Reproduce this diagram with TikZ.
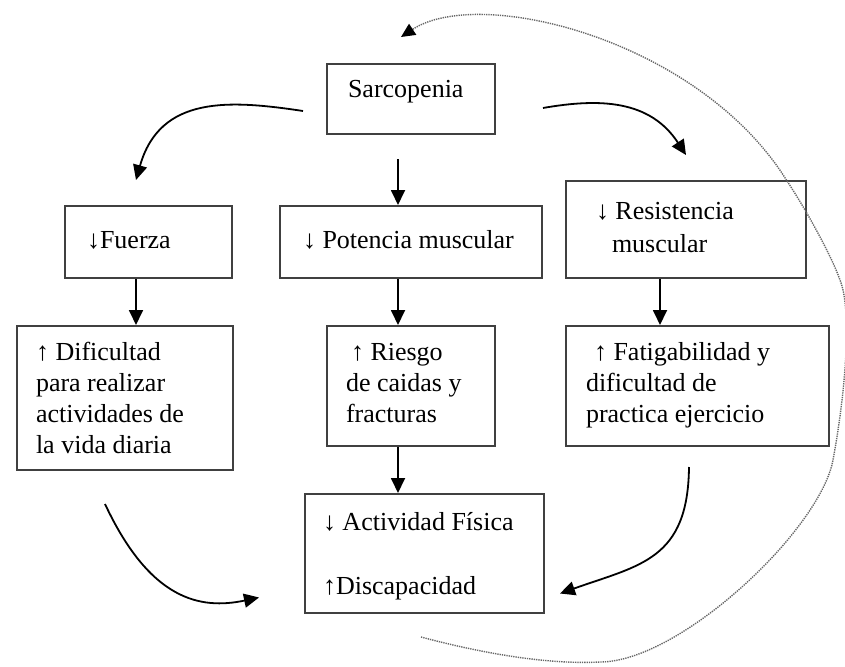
\documentclass[tikz,border=0pt]{standalone}
\usepackage{fontspec}
\setmainfont{Liberation Serif}
\usetikzlibrary{arrows.meta,calc}

% box text: width, height, left pad, top pad, text
\newcommand{\cajatxt}[5]{\parbox[t][#2][t]{#1}{\vspace*{#4}\leftskip=#3\relax\strut #5\par}}

\begin{document}
\begin{tikzpicture}[x=1pt,y=-1pt,
	caja/.style={draw=black!75, line width=2pt, anchor=north west, inner sep=0pt,
		font=\fontsize{26}{31}\selectfont},
	flecha/.style={line width=1.8pt, -{Triangle[length=15pt,width=14pt]}},
	ciclo/.style={draw=black!60, line width=1.4pt, dash pattern=on 1.3pt off 1pt,
		-{Triangle[length=14pt,width=13pt,black]}}]

		\useasboundingbox (0,0) rectangle (845,666);

		% Boxes
		\node[caja] (sarc) at (326,63) {\cajatxt{168pt}{70pt}{21pt}{12pt}{Sarcopenia}};
		\node[caja] (fuerza) at (64,205) {\cajatxt{167pt}{72pt}{22pt}{21pt}{↓Fuerza}};
		\node[caja] (pot) at (279,205) {\cajatxt{262pt}{72pt}{23pt}{21pt}{↓ Potencia muscular}};
		\node[caja] (res) at (565,180) {\cajatxt{240pt}{97pt}{30pt}{17pt}{↓ Resistencia\\[2pt]\hspace*{16pt}muscular}};
		\node[caja] (dif) at (16,325) {\cajatxt{216pt}{144pt}{19pt}{13pt}{↑ Dificultad\\para realizar\\actividades de\\la vida diaria}};
		\node[caja] (ries) at (326,325) {\cajatxt{168pt}{120pt}{19pt}{13pt}{\hspace*{5pt}↑ Riesgo\\de caidas y\\fracturas}};
		\node[caja] (fat) at (565,325) {\cajatxt{263pt}{120pt}{20pt}{13pt}{\hspace*{8pt}↑ Fatigabilidad y\\dificultad de\\practica ejercicio}};
		\node[caja] (act) at (304,493) {\cajatxt{239pt}{119pt}{18pt}{15pt}{↓ Actividad Física\\[33pt]↑Discapacidad}};

		% Columns of the straight arrows
		\coordinate (colA) at (136,0);
		\coordinate (colB) at (398,0);
		\coordinate (colC) at (660,0);

		% Straight arrows
		\draw[flecha] ($(sarc.south -| colB)+(0,24)$) -- (pot.north -| colB);
		\draw[flecha] (fuerza.south -| colA) -- (dif.north -| colA);
		\draw[flecha] (pot.south -| colB) -- (ries.north -| colB);
		\draw[flecha] (res.south -| colC) -- (fat.north -| colC);
		\draw[flecha] (ries.south -| colB) -- (act.north -| colB);

		% Curved arrows
		\draw[flecha] ($(sarc.west)+(-23,12)$) .. controls (230,100) and (160,95) .. ($(fuerza.north -| colA)+(0,-25)$);
		\draw[flecha] ($(sarc.east)+(47,9)$) .. controls (600,98) and (650,100) .. ($(res.north)+(0,-25)$);
		\draw[flecha] ($(dif.south)+(-20,33)$) .. controls (150,600) and (200,610) .. ($(act.west)+(-45,44)$);
		\draw[flecha] ($(fat.south)+(-8.5,20)$) .. controls (688,560) and (640,565) .. ($(act.east)+(15,40)$);

		% Dotted loop back to Sarcopenia
		\coordinate (cicloIni) at ($(act.south)+(-3.5,23)$);
		\coordinate (cicloFin) at ($(sarc.north)+(-10,-26)$);
		\draw[ciclo] (cicloIni) .. controls (470,650) and (540,665) .. (600,662)
			.. controls (680,662) and (820,530) .. (833,460)
			.. controls (842,412) and (852,330) .. (843,290)
			.. controls (837,263) and (800,200) .. (787,181)
			.. controls (700,40) and (480,-15) .. (cicloFin);

	\end{tikzpicture}
\end{document}
